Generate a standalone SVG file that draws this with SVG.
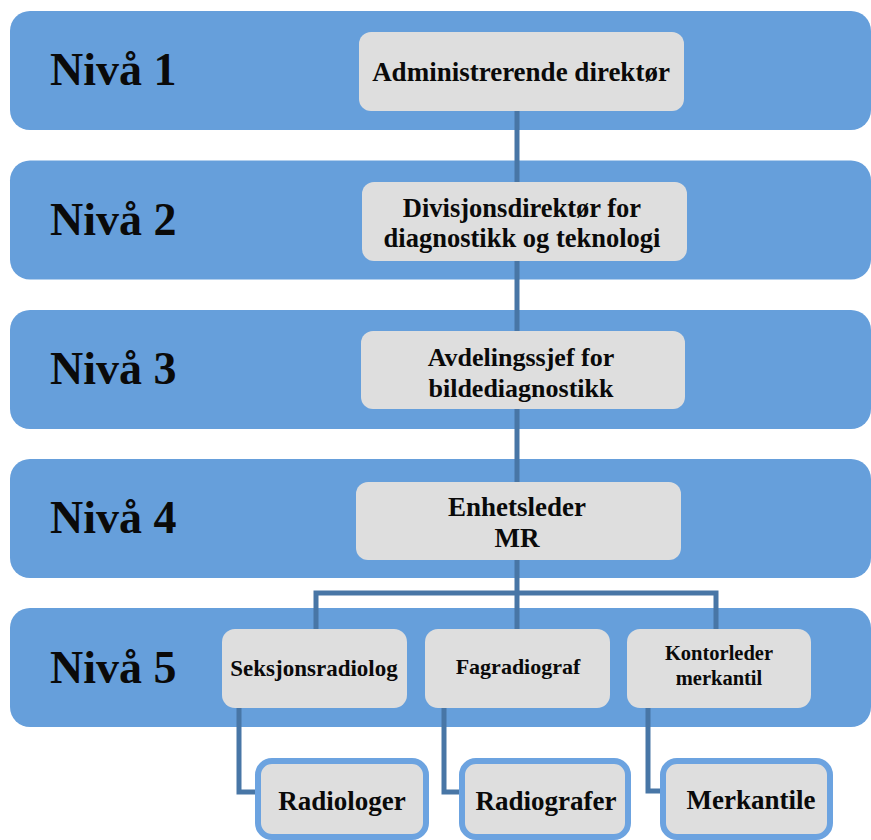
<svg xmlns="http://www.w3.org/2000/svg" width="871" height="840" viewBox="0 0 871 840">
  <style>
    .band { fill: #669fdb; }
    .node { fill: #dedede; }
    .leaf { fill: #dedede; stroke: #6ca3e0; stroke-width: 6; }
    .conn { fill: none; stroke: #4876a6; stroke-width: 5; stroke-linejoin: miter; }
    text { font-family: "Liberation Serif", "Times New Roman", serif; font-weight: bold; fill: #0a0a0a; text-anchor: middle; }
    .lvl { font-size: 46px; text-anchor: start; }
  </style>

  <!-- level bands -->
  <g id="bands">
    <g id="band1"><rect class="band" x="10" y="11" width="861" height="119" rx="20"/><text class="lvl" x="50" y="85">Nivå 1</text></g>
    <g id="band2"><rect class="band" x="10" y="160.5" width="861" height="119" rx="20"/><text class="lvl" x="50" y="235">Nivå 2</text></g>
    <g id="band3"><rect class="band" x="10" y="310" width="861" height="119" rx="20"/><text class="lvl" x="50" y="384">Nivå 3</text></g>
    <g id="band4"><rect class="band" x="10" y="459" width="861" height="119" rx="20"/><text class="lvl" x="50" y="533">Nivå 4</text></g>
    <g id="band5"><rect class="band" x="10" y="608" width="861" height="119" rx="20"/><text class="lvl" x="50" y="683">Nivå 5</text></g>
  </g>

  <!-- connectors -->
  <g id="connectors">
    <path class="conn" d="M517,111 V629"/>
    <path class="conn" d="M316,629 V593 H716 V629"/>
    <path class="conn" d="M239,708 V792 H257"/>
    <path class="conn" d="M444,708 V792 H461"/>
    <path class="conn" d="M648,708 V791 H662"/>
  </g>

  <!-- nodes -->
  <g id="n-adm">
    <rect class="node" x="359" y="32" width="325" height="79" rx="12"/>
    <text x="521" y="81" font-size="27">Administrerende direktør</text>
  </g>
  <g id="n-div">
    <rect class="node" x="362" y="182" width="325" height="79" rx="12"/>
    <text x="522" y="217" font-size="26.5">Divisjonsdirektør for</text>
    <text x="522" y="247" font-size="26.5">diagnostikk og teknologi</text>
  </g>
  <g id="n-avd">
    <rect class="node" x="361" y="331" width="324" height="78" rx="12"/>
    <text x="521" y="366" font-size="26">Avdelingssjef for</text>
    <text x="521" y="397" font-size="26">bildediagnostikk</text>
  </g>
  <g id="n-enh">
    <rect class="node" x="356" y="482" width="325" height="78" rx="12"/>
    <text x="517" y="516" font-size="27">Enhetsleder</text>
    <text x="517" y="547" font-size="27">MR</text>
  </g>
  <g id="n-seks">
    <rect class="node" x="222" y="629" width="185" height="79" rx="13"/>
    <text x="314" y="676" font-size="23">Seksjonsradiolog</text>
  </g>
  <g id="n-fag">
    <rect class="node" x="425" y="629" width="185" height="79" rx="13"/>
    <text x="518" y="674" font-size="22">Fagradiograf</text>
  </g>
  <g id="n-kont">
    <rect class="node" x="627" y="629" width="184" height="79" rx="13"/>
    <text x="719" y="660" font-size="20.5">Kontorleder</text>
    <text x="719" y="685" font-size="20.5">merkantil</text>
  </g>
  <g id="n-radiologer">
    <rect class="leaf" x="258" y="761" width="168" height="76" rx="14"/>
    <text x="342" y="810" font-size="27">Radiologer</text>
  </g>
  <g id="n-radiografer">
    <rect class="leaf" x="462" y="761" width="166" height="76" rx="14"/>
    <text x="546" y="810" font-size="27">Radiografer</text>
  </g>
  <g id="n-merkantile">
    <rect class="leaf" x="663" y="761" width="167" height="76" rx="14"/>
    <text x="751" y="809" font-size="27">Merkantile</text>
  </g>
</svg>
